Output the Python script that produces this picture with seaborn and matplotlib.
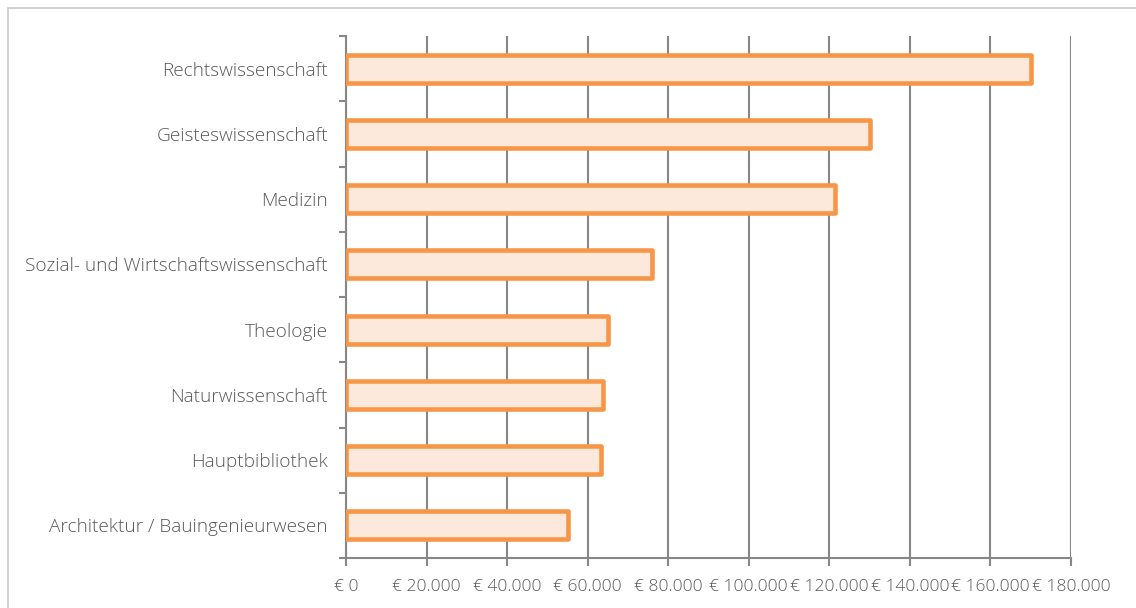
import matplotlib
matplotlib.use("Agg")
import matplotlib.pyplot as plt
from matplotlib.lines import Line2D
import seaborn as sns
import pandas as pd
import numpy as np

categories = [
    "Rechtswissenschaft",
    "Geisteswissenschaft",
    "Medizin",
    "Sozial- und Wirtschaftswissenschaft",
    "Theologie",
    "Naturwissenschaft",
    "Hauptbibliothek",
    "Architektur / Bauingenieurwesen",
]
values = [170000, 130000, 121500, 76000, 65000, 63800, 63200, 55000]
x_ticks = [0, 20000, 40000, 60000, 80000, 100000, 120000, 140000, 160000, 180000]
x_tick_labels = ["€ 0", "€ 20.000", "€ 40.000", "€ 60.000", "€ 80.000", "€ 100.000",
                 "€ 120.000", "€ 140.000", "€ 160.000", "€ 180.000"]

df = pd.DataFrame({"Bereich": categories, "Betrag": values})

sns.set_theme(style="white")
plt.rcParams["font.family"] = ["Open Sans", "DejaVu Sans"]

text_col = "#595959"
grid_col = "#878787"
edge_col = "#F79646"
fill_col = "#FCE9DB"

fig = plt.figure(figsize=(11.36, 6.08), dpi=100)
fig.patch.set_facecolor("white")
ax = fig.add_axes([346 / 1136, 1 - 558 / 608, (1071 - 346) / 1136, (558 - 36) / 608])

sns.barplot(data=df, x="Betrag", y="Bereich", orient="h", ax=ax,
            color=fill_col, edgecolor=edge_col, linewidth=3.3, width=0.43,
            saturation=1)
for p in ax.patches:
    p.set_joinstyle("round")
    p.set_zorder(3)

ax.set_xlim(0, 180000)
ax.set_ylim(len(categories) - 0.5, -0.5)
ax.set_xlabel("")
ax.set_ylabel("")

ax.set_xticks(x_ticks)
ax.set_xticklabels(x_tick_labels)
ax.xaxis.grid(True, color=grid_col, linewidth=1.5, zorder=0)
ax.set_axisbelow(True)

# category separators on the y axis
ax.set_yticks(np.arange(-0.5, len(categories), 1.0), minor=True)
ax.tick_params(axis="y", which="major", length=0, pad=13, labelsize=13.7, labelcolor=text_col)
ax.tick_params(axis="y", which="minor", left=True, length=5, width=1.5, color=grid_col)
ax.tick_params(axis="x", which="major", bottom=True, length=6, width=1.5, color=grid_col,
               pad=9, labelsize=12.6, labelcolor=text_col)
for lbl in ax.get_yticklabels() + ax.get_xticklabels():
    lbl.set_fontweight("light")

for side in ["top", "right"]:
    ax.spines[side].set_visible(False)
for side in ["left", "bottom"]:
    ax.spines[side].set_color(grid_col)
    ax.spines[side].set_linewidth(1.5)

# outer chart frame (top and left edges)
frame_kw = dict(transform=fig.transFigure, color="#C8C8C8", linewidth=1.2)
fig.add_artist(Line2D([7.5 / 1136, 1.0], [1 - 7.5 / 608, 1 - 7.5 / 608], **frame_kw))
fig.add_artist(Line2D([7.5 / 1136, 7.5 / 1136], [0.0, 1 - 7.5 / 608], **frame_kw))

fig.savefig("out.png", dpi=100, facecolor="white")
